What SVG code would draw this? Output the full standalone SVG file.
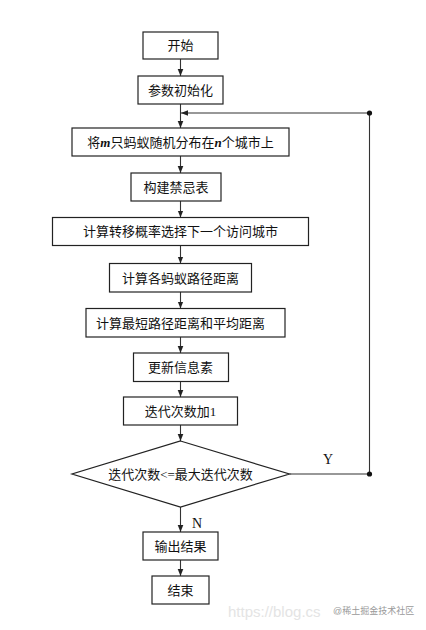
<svg xmlns="http://www.w3.org/2000/svg" width="426" height="630" viewBox="0 0 426 630">
<defs>
<marker id="ah" viewBox="0 0 10 10" refX="10" refY="5" markerWidth="7" markerHeight="7" markerUnits="userSpaceOnUse" orient="auto">
<path d="M0,1 L10,5 L0,9 z" fill="#222"/>
</marker>
<style>
.box{fill:#fff;stroke:#222;stroke-width:1.2}
.t{font-family:"Liberation Serif","Noto Sans CJK SC",serif;font-size:13px;fill:#111;text-anchor:middle}
.c{fill:none;stroke:#333;stroke-width:1.1}
.lbl{font-family:"Liberation Serif","Noto Sans CJK SC",serif;font-size:14px;fill:#111;text-anchor:middle}
</style>
</defs>
<rect width="426" height="630" fill="#fff"/>
<g id="connectors">
<line class="c" x1="180.5" y1="59" x2="180.5" y2="76" marker-end="url(#ah)"/>
<line class="c" x1="180.5" y1="104" x2="180.5" y2="128" marker-end="url(#ah)"/>
<line class="c" x1="180.5" y1="156" x2="180.5" y2="173" marker-end="url(#ah)"/>
<line class="c" x1="180.5" y1="201" x2="180.5" y2="217.5" marker-end="url(#ah)"/>
<line class="c" x1="180.5" y1="245.5" x2="180.5" y2="263.5" marker-end="url(#ah)"/>
<line class="c" x1="180.5" y1="292" x2="180.5" y2="308.5" marker-end="url(#ah)"/>
<line class="c" x1="180.5" y1="337" x2="180.5" y2="353" marker-end="url(#ah)"/>
<line class="c" x1="180.5" y1="381.5" x2="180.5" y2="397" marker-end="url(#ah)"/>
<line class="c" x1="180.5" y1="425" x2="180.5" y2="441" marker-end="url(#ah)"/>
<line class="c" x1="180.5" y1="507" x2="180.5" y2="532" marker-end="url(#ah)"/>
<line class="c" x1="180.5" y1="560" x2="180.5" y2="576" marker-end="url(#ah)"/>
<polyline class="c" points="289.5,474 369.5,474 369.5,113 181,113" marker-end="url(#ah)"/>
<circle cx="369.5" cy="474" r="2.6" fill="#111"/>
<circle cx="369.5" cy="113" r="2.6" fill="#111"/>
<text class="lbl" x="328" y="464">Y</text>
<text class="lbl" x="197" y="528">N</text>
</g>
<g id="n1"><rect class="box" x="143" y="32" width="75" height="27"/><text class="t" x="180.5" y="50">开始</text></g>
<g id="n2"><rect class="box" x="138" y="76" width="85" height="28"/><text class="t" x="180.5" y="94.5">参数初始化</text></g>
<g id="n3"><rect class="box" x="72" y="128" width="217" height="28"/><text class="t" x="180.5" y="146.5">将<tspan font-weight="bold" font-style="italic">m</tspan>只蚂蚁随机分布在<tspan font-weight="bold" font-style="italic">n</tspan>个城市上</text></g>
<g id="n4"><rect class="box" x="131" y="173" width="90" height="28"/><text class="t" x="176" y="191.5">构建禁忌表</text></g>
<g id="n5"><rect class="box" x="52.5" y="217.5" width="256" height="28"/><text class="t" x="180.5" y="236">计算转移概率选择下一个访问城市</text></g>
<g id="n6"><rect class="box" x="109.5" y="263.5" width="142" height="28.5"/><text class="t" x="180.5" y="282.5">计算各蚂蚁路径距离</text></g>
<g id="n7"><rect class="box" x="86" y="308.5" width="199" height="28.5"/><text class="t" x="180.5" y="327.5">计算最短路径距离和平均距离</text></g>
<g id="n8"><rect class="box" x="133.5" y="353" width="95" height="28.5"/><text class="t" x="180.5" y="372">更新信息素</text></g>
<g id="n9"><rect class="box" x="123.5" y="397" width="114" height="28"/><text class="t" x="180.5" y="415.5">迭代次数加1</text></g>
<g id="n10"><polygon class="box" points="180.5,441 289.5,474 180.5,507 72,474"/><text class="t" x="180.5" y="478.5">迭代次数&lt;=最大迭代次数</text></g>
<g id="n11"><rect class="box" x="143" y="532" width="75" height="28"/><text class="t" x="180.5" y="550.5">输出结果</text></g>
<g id="n12"><rect class="box" x="152" y="576" width="57" height="28"/><text class="t" x="180.5" y="594.5">结束</text></g>
<g id="watermark">
<text x="228" y="617" font-family="Liberation Sans,sans-serif" font-size="15" fill="#e4e4e4">https://blog.cs</text>
<text x="333" y="614" font-family="Liberation Sans,'Noto Sans CJK SC',sans-serif" font-size="9" fill="#9a9a9a">@稀土掘金技术社区</text>
</g>
</svg>
